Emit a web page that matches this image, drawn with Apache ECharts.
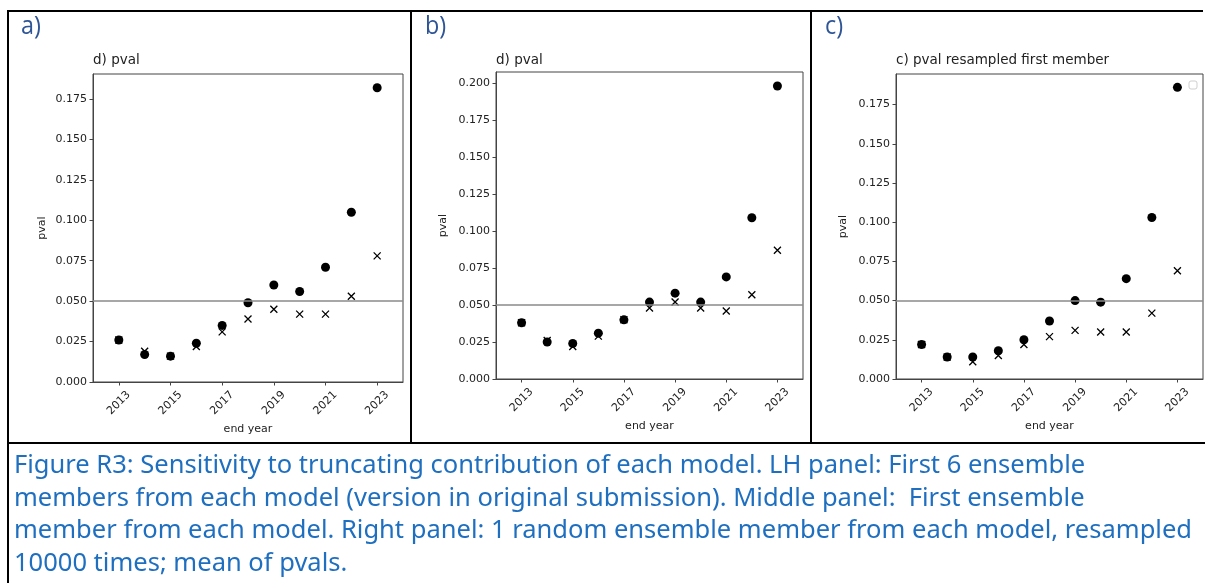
<!DOCTYPE html>
<html>
<head>
<meta charset="utf-8">
<script src="https://cdn.jsdelivr.net/npm/echarts@6/dist/echarts.min.js"></script>
<style>
  html, body { margin: 0; padding: 0; background: #fff; }
  #main { width: 1205px; height: 583px; }
</style>
</head>
<body>
<div id="main"></div>
<script>
// end years shared by all three panels
var years = [2013, 2014, 2015, 2016, 2017, 2018, 2019, 2020, 2021, 2022, 2023];
var xTicks = [2013, 2015, 2017, 2019, 2021, 2023];

// a) first 6 ensemble members
var aDots = [0.026, 0.017, 0.016, 0.024, 0.035, 0.049, 0.060, 0.056, 0.071, 0.105, 0.182];
var aCross = [0.026, 0.019, 0.016, 0.022, 0.031, 0.039, 0.045, 0.042, 0.042, 0.053, 0.078];
// b) first ensemble member
var bDots = [0.038, 0.025, 0.024, 0.031, 0.040, 0.052, 0.058, 0.052, 0.069, 0.109, 0.198];
var bCross = [0.038, 0.026, 0.022, 0.029, 0.040, 0.048, 0.052, 0.048, 0.046, 0.057, 0.087];
// c) resampled first member
var cDots = [0.022, 0.014, 0.014, 0.018, 0.025, 0.037, 0.050, 0.049, 0.064, 0.103, 0.186];
var cCross = [0.022, 0.014, 0.011, 0.015, 0.022, 0.027, 0.031, 0.030, 0.030, 0.042, 0.069];

var yTicksA = [0, 0.025, 0.05, 0.075, 0.1, 0.125, 0.15, 0.175];
var yTicksB = [0, 0.025, 0.05, 0.075, 0.1, 0.125, 0.15, 0.175, 0.2];
var yTicksC = [0, 0.025, 0.05, 0.075, 0.1, 0.125, 0.15, 0.175];
var yMax = [0.1905, 0.2075, 0.1945];
var threshold = 0.05;

var titles = ['d) pval', 'd) pval', 'c) pval resampled first member'];
var panelLabels = ['a)', 'b)', 'c)'];
var caption = [
  'Figure R3: Sensitivity to truncating contribution of each model. LH panel: First 6 ensemble',
  'members from each model (version in original submission). Middle panel:  First ensemble',
  'member from each model. Right panel: 1 random ensemble member from each model, resampled',
  '10000 times; mean of pvals.'
];

var chart = echarts.init(document.getElementById('main'), null, { renderer: 'canvas' });

var FONT = 'DejaVu Sans';
var INK = '#222';
var grids = [
  { left: 93, top: 74, width: 310, height: 308 },
  { left: 496, top: 72, width: 307, height: 307 },
  { left: 896, top: 74, width: 307, height: 305 }
];
var yTickSets = [yTicksA, yTicksB, yTicksC];
var dotSets = [aDots, bDots, cDots];
var crossSets = [aCross, bCross, cCross];
var yNameGaps = [45, 47, 47];
var xNameGaps = [42, 41, 40];

function pairs(vals) {
  return years.map(function (y, i) { return [y, vals[i]]; });
}

var xAxes = [], yAxes = [], series = [], titleList = [];
grids.forEach(function (g, i) {
  g.show = true;
  g.borderColor = '#444';
  g.borderWidth = 1;
  g.containLabel = false;

  xAxes.push({
    type: 'value', gridIndex: i, min: 2012, max: 2024,
    name: 'end year', nameLocation: 'middle', nameGap: xNameGaps[i],
    nameTextStyle: { fontFamily: FONT, fontSize: 11, color: INK },
    axisLine: { show: true, lineStyle: { color: '#444', width: 1 } },
    axisTick: { show: true, length: 3.5, customValues: xTicks, lineStyle: { color: '#444' } },
    axisLabel: {
      customValues: xTicks, rotate: 45, align: 'center', verticalAlign: 'middle', margin: 21,
      fontFamily: FONT, fontSize: 11, color: INK,
      formatter: function (v) { return String(v); }
    },
    splitLine: { show: false }
  });

  yAxes.push({
    type: 'value', gridIndex: i, min: 0, max: yMax[i],
    name: 'pval', nameLocation: 'middle', nameGap: yNameGaps[i], nameRotate: 90,
    nameTextStyle: { fontFamily: FONT, fontSize: 11, color: INK },
    axisLine: { show: true, lineStyle: { color: '#444', width: 1 } },
    axisTick: { show: true, length: 3.5, customValues: yTickSets[i], lineStyle: { color: '#444' } },
    axisLabel: {
      customValues: yTickSets[i], margin: 6,
      fontFamily: FONT, fontSize: 11, color: INK,
      formatter: function (v) { return v.toFixed(3); }
    },
    splitLine: { show: false }
  });

  series.push({
    type: 'scatter', xAxisIndex: i, yAxisIndex: i,
    data: pairs(dotSets[i]), symbol: 'circle', symbolSize: 9,
    itemStyle: { color: '#000', opacity: 1 },
    markLine: {
      silent: true, symbol: ['none', 'none'], label: { show: false },
      lineStyle: { color: '#8a8a8a', type: 'solid', width: 1.5 },
      data: [{ yAxis: threshold }]
    },
    z: 2
  });
  series.push({
    type: 'scatter', xAxisIndex: i, yAxisIndex: i,
    data: pairs(crossSets[i]),
    symbol: 'path://M0,0L10,10M10,0L0,10', symbolSize: 7,
    itemStyle: { color: 'none', borderColor: '#000', borderWidth: 1.3, opacity: 1 },
    z: 3
  });

  titleList.push({
    text: titles[i], left: g.left, top: 53, padding: 0,
    textStyle: { fontFamily: FONT, fontSize: 13.5, fontWeight: 'normal', color: INK }
  });
});

// squeeze caption into the width of the Calibri original
var ctx = document.createElement('canvas').getContext('2d');
var capFont = '25px "Noto Sans"';
ctx.font = capFont;
var capScale = 1178 / ctx.measureText(caption[2]).width;

var graphics = [];
// table borders
var border = { stroke: '#000', lineWidth: 2 };
[[7, 11, 1203, 11], [8, 10, 8, 583], [7, 443, 1205, 443], [411, 10, 411, 443], [811, 10, 811, 443]]
  .forEach(function (s) {
    graphics.push({ type: 'line', shape: { x1: s[0], y1: s[1], x2: s[2], y2: s[3] }, style: border, z: 10 });
  });
// panel letters
[21, 425, 825].forEach(function (x, i) {
  graphics.push({
    type: 'text', x: x, y: 14, scaleX: 0.9,
    style: { text: panelLabels[i], font: '26px "Open Sans"', fill: '#2F5597' }
  });
});
// empty legend box in panel c
graphics.push({
  type: 'rect', shape: { x: 1189, y: 81, width: 8, height: 8, r: 2 },
  style: { fill: '#fff', stroke: '#cfcfcf', lineWidth: 1 }, z: 10
});
// caption
caption.forEach(function (line, i) {
  graphics.push({
    type: 'text', x: 14, y: 466 + i * 32.5, scaleX: capScale,
    style: { text: line, font: capFont, fill: '#1F6FC0', verticalAlign: 'middle' }
  });
});

chart.setOption({
  animation: false,
  backgroundColor: '#fff',
  title: titleList,
  grid: grids,
  xAxis: xAxes,
  yAxis: yAxes,
  series: series,
  graphic: graphics
});
</script>
</body>
</html>
